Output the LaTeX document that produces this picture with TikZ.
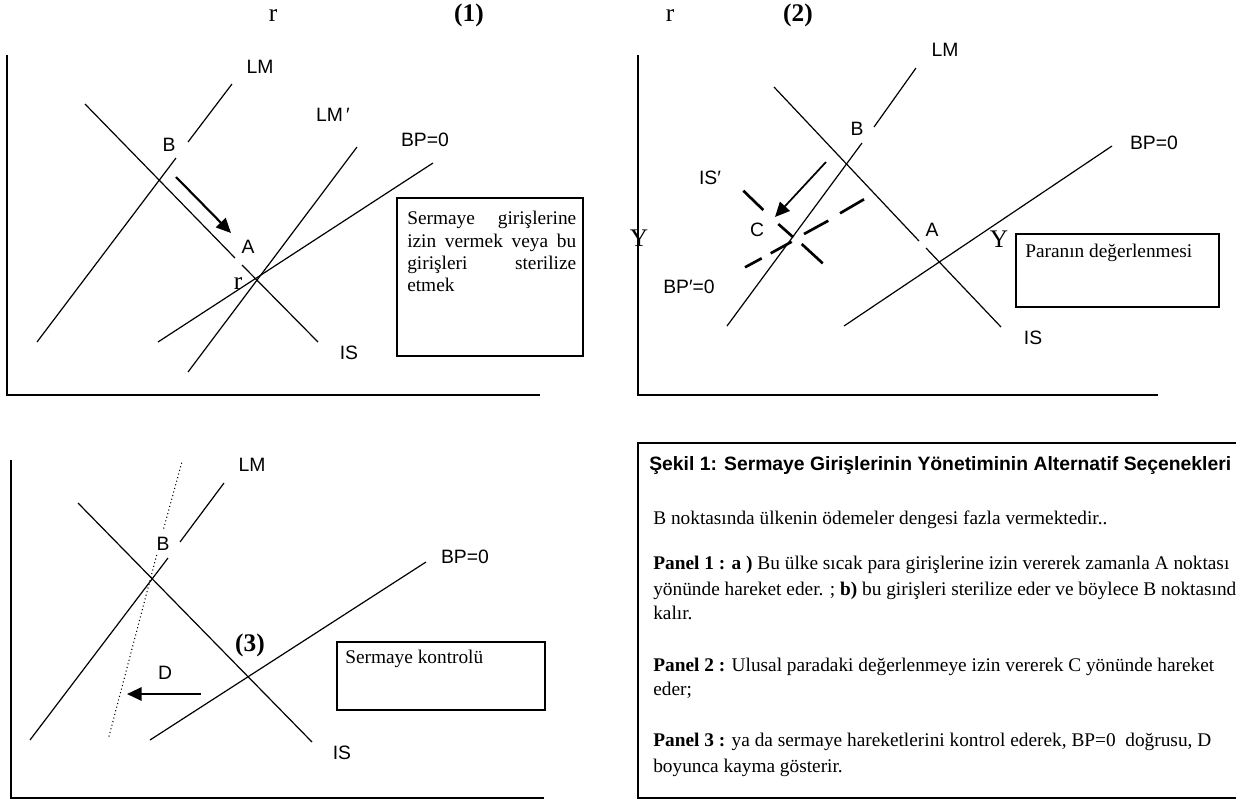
\documentclass[tikz,border=0pt]{standalone}
\usepackage{fontspec}
\setmainfont{Liberation Serif}
\newfontfamily\lsans{Liberation Sans}
\usetikzlibrary{arrows.meta}
\begin{document}
\begin{tikzpicture}[x=0.75pt,y=-0.75pt,
  curve/.style={line width=0.9pt},
  axis/.style={line width=1pt},
  fatarrow/.style={line width=1.6pt,-{Triangle[length=11pt,width=10pt]}},
  dashseg/.style={line width=2pt},
  dotline/.style={line width=0.8pt,dotted},
  frame/.style={draw,line width=1.1pt},
  lbl/.style={font=\lsans\fontsize{14.5}{16}\selectfont,inner sep=0pt},
  big/.style={font=\fontsize{19}{22}\selectfont,inner sep=0pt,anchor=base},
  num/.style={font=\bfseries\fontsize{19}{22}\selectfont,inner sep=0pt,anchor=base},
  txt/.style={font=\fontsize{14.5}{17}\selectfont,inner sep=0pt,anchor=base west},
  ttl/.style={font=\lsans\bfseries\fontsize{14.5}{17}\selectfont,inner sep=0pt,anchor=base west}]
\useasboundingbox (0,0) rectangle (1236,800);
\clip (0,0) rectangle (1236,800);

% ---------------- Panel 1 ----------------
\node[big] (r1) at (273,21) {r};
\node[num] (n1) at (469,21) {(1)};
\draw[axis] (7,55) -- (7,395) -- (540,395);
% LM
\draw[curve] (37,342) -- (176,158);
\draw[curve] (188,142) -- (232,84);
\node[lbl] (lm1) at (260,67) {LM};
% IS
\draw[curve] (85,104) -- (235,258);
\draw[curve] (242,265) -- (318,342);
\node[lbl] (is1) at (349,353) {IS};
% LM'
\draw[curve] (188,372) -- (357,147);
\node[lbl] (lmp1) at (333,115) {LM\,′};
% BP=0
\draw[curve] (158,342) -- (433,163);
\node[lbl] (bp1) at (425,140) {BP=0};
\node[lbl] (b1) at (169,145) {B};
\node[lbl] (a1) at (248,247) {A};
\node[big] (r1b) at (238,289) {r};
\coordinate (p1s) at (176,177);
\coordinate (p1e) at (231,233);
\draw[fatarrow] (p1s) -- (p1e);
\draw[frame] (397,198) rectangle (583,356);
\node[txt] (t1a) at (407,224) {\makebox[126.75pt][s]{Sermaye girişlerine}};
\node[txt] (t1b) at (407,247) {\makebox[126.75pt][s]{izin vermek veya bu}};
\node[txt] (t1c) at (407,269) {\makebox[126.75pt][s]{girişleri sterilize}};
\node[txt] (t1d) at (407,291) {etmek};

% ---------------- Panel 2 ----------------
\node[big] (r2) at (670,21) {r};
\node[num] (n2) at (798,21) {(2)};
\draw[axis] (638,55) -- (638,395) -- (1158,395);
\node[big] (y2a) at (639,246) {Y};
\node[big] (y2b) at (999,247) {Y};
% LM
\draw[curve] (727,326) -- (862,143);
\draw[curve] (874,127) -- (916,68);
\node[lbl] (lm2) at (945,50) {LM};
\node[lbl] (b2) at (857,129) {B};
% IS
\draw[curve] (774,87) -- (919,241);
\draw[curve] (926,248) -- (1001,327);
\node[lbl] (is2) at (1033,338) {IS};
\node[lbl] (a2) at (932,230) {A};
% BP=0
\draw[curve] (844,326) -- (1112,146);
\node[lbl] (bp2) at (1154,143) {BP=0};
% IS' dashed
\draw[dashseg] (743.3,190.7) -- (763.3,210);
\draw[dashseg] (778.3,224) -- (793.3,237.3);
\draw[dashseg] (801.7,244) -- (822.7,263.3);
\node[lbl] (isp2) at (710,178) {IS′};
% BP'=0 dashed
\draw[dashseg] (745,267.3) -- (761.7,258.3);
\draw[dashseg] (770.7,253.3) -- (791.7,241.7);
\draw[dashseg] (804,234) -- (828.3,220.7);
\draw[dashseg] (840,213.3) -- (864,199.3);
\node[lbl] (bpp2) at (689,287) {BP′=0};
\node[lbl] (c2) at (757,230) {C};
\coordinate (p2s) at (826,162);
\coordinate (p2e) at (775,217);
\draw[fatarrow,line width=1.3pt] (p2s) -- (p2e);
\draw[frame] (1016,234) rectangle (1219,307);
\node[txt] (t2) at (1025,257) {Paranın değerlenmesi};

% ---------------- Panel 3 ----------------
\draw[axis] (11,460) -- (11,798) -- (544,798);
% LM
\draw[curve] (30,740) -- (168,558);
\draw[curve] (180,542) -- (224,483);
\node[lbl] (lm3) at (252,465) {LM};
\node[lbl] (b3) at (163,544) {B};
% IS
\draw[curve] (78,503) -- (312,742);
\node[lbl] (is3) at (342,753) {IS};
% BP=0
\draw[curve] (150,740) -- (426,562);
\node[lbl] (bp3) at (465,557) {BP=0};
% dotted shifted line
\draw[dotline] (181.7,462.7) -- (163.3,530);
\draw[dotline] (156.7,555) -- (108.3,739);
\node[num,anchor=center] (n3) at (250,645) {(3)};
\node[lbl] (d3) at (165,673) {D};
\coordinate (p3s) at (201,694);
\coordinate (p3e) at (127,694);
\draw[fatarrow] (p3s) -- (p3e);
\draw[frame] (337,642) rectangle (545,710);
\node[txt] (t3) at (345,663) {Sermaye kontrolü};

% ---------------- Panel 4 (caption box) ----------------
\draw[frame] (638,443) rectangle (1250,798);
\node[ttl] (cap) at (649,470) {Şekil 1: Sermaye Girişlerinin Yönetiminin Alternatif Seçenekleri};
\node[txt] (l1) at (653,524) {B noktasında ülkenin ödemeler dengesi fazla vermektedir..};
\node[txt] (l2) at (653,569) {\textbf{Panel 1 : a )} Bu ülke sıcak para girişlerine izin vererek zamanla A noktası};
\node[txt] (l3) at (653,595) {yönünde hareket eder. ; \textbf{b)} bu girişleri sterilize eder ve böylece B noktasında};
\node[txt] (l4) at (653,619) {kalır.};
\node[txt] (l5) at (653,671) {\textbf{Panel 2 :} Ulusal paradaki değerlenmeye izin vererek C yönünde hareket};
\node[txt] (l6) at (653,695) {eder;};
\node[txt] (l7) at (653,746) {\textbf{Panel 3 :} ya da sermaye hareketlerini kontrol ederek, BP=0\ \ doğrusu, D};
\node[txt] (l8) at (653,772) {boyunca kayma gösterir.};
\end{tikzpicture}
\end{document}
